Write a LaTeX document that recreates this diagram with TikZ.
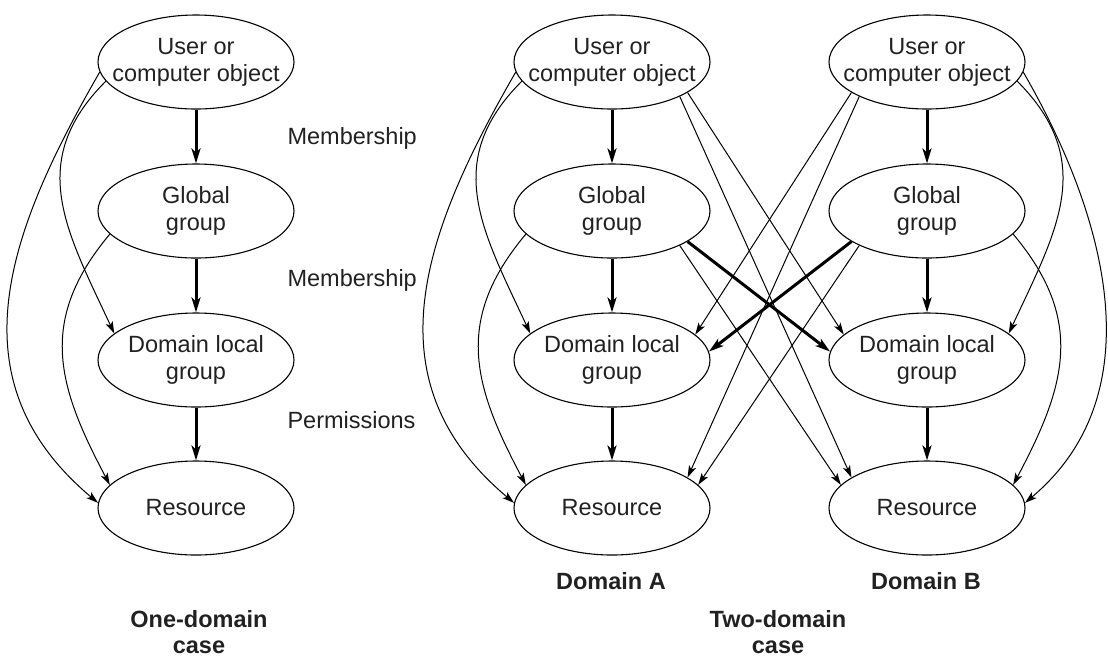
\documentclass[tikz,border=0pt]{standalone}
\usepackage{fontspec}
\setmainfont{Liberation Sans}
\usetikzlibrary{shapes.geometric,arrows.meta}
\begin{document}
\begin{tikzpicture}[x=1pt,y=1pt,
  ell/.style={draw, ellipse, line width=1.1pt, minimum width=196pt, minimum height=94pt, inner sep=0pt},
  txt/.style={align=center, font=\fontsize{23.5}{27}\selectfont, text=black!87},
  btxt/.style={align=center, font=\fontsize{23.5}{26}\selectfont\bfseries, text=black!87},
  bigarrow/.style={line width=3pt, -{Stealth[length=15pt,width=9pt,inset=4pt]}},
  smallarrow/.style={line width=1pt, -{Stealth[length=12pt,width=7.5pt,inset=3pt]}}
]
\useasboundingbox (0,0) rectangle (1108,-657);

% one-domain column
\node[ell, label={[txt]center:User or\\computer object}] (u1) at (196,-62) {};
\node[ell, label={[txt]center:Global\\group}] (g1) at (196,-211) {};
\node[ell, label={[txt]center:Domain local\\group}] (d1) at (196,-360) {};
\node[ell, label={[txt]center:Resource}] (r1) at (196,-508) {};

% domain A
\node[ell, label={[txt]center:User or\\computer object}] (ua) at (612,-62) {};
\node[ell, label={[txt]center:Global\\group}] (ga) at (612,-211) {};
\node[ell, label={[txt]center:Domain local\\group}] (da) at (612,-360) {};
\node[ell, label={[txt]center:Resource}] (ra) at (612,-508) {};

% domain B
\node[ell, label={[txt]center:User or\\computer object}] (ub) at (927,-62) {};
\node[ell, label={[txt]center:Global\\group}] (gb) at (927,-211) {};
\node[ell, label={[txt]center:Domain local\\group}] (db) at (927,-360) {};
\node[ell, label={[txt]center:Resource}] (rb) at (927,-508) {};

% side labels
\node[txt, anchor=west] (m1) at (284,-138) {Membership};
\node[txt, anchor=west] (m2) at (284,-280) {Membership};
\node[txt, anchor=west] (p1) at (284,-420) {Permissions};

\node[btxt] (la) at (611,-581) {Domain A};
\node[btxt] (lb) at (926,-581) {Domain B};
\node[btxt] (l1) at (199,-632) {One-domain\\case};
\node[btxt] (l2) at (778,-632) {Two-domain\\case};

% vertical thick arrows
\foreach \c in {1,a,b}{
  \draw[bigarrow] (u\c) -- (g\c);
  \draw[bigarrow] (g\c) -- (d\c);
  \draw[bigarrow] (d\c) -- (r\c);
}

% left-side curves (one-domain and domain A)
\foreach \c in {1,a}{
  \draw[smallarrow] (u\c.186) to[out=240,in=140,looseness=1.12] (r\c.177);
  \draw[smallarrow] (u\c.192) to[out=225,in=115,looseness=1.15] (d\c.162);
  \draw[smallarrow] (g\c.195) to[out=230,in=118,looseness=1.15] (r\c.165);
}

% right-side curves (domain B)
\draw[smallarrow] (ub.-6) to[out=-60,in=40,looseness=1.0] (rb.3);
\draw[smallarrow] (ub.-12) to[out=-45,in=65,looseness=1.15] (db.18);
\draw[smallarrow] (gb.-15) to[out=-50,in=62,looseness=1.15] (rb.15);

% cross connections
\draw[smallarrow] (ua.-22) -- (db.163);
\draw[smallarrow] (ua.-27) -- (rb.158);
\draw[bigarrow] (ga.-22) -- (db.175);
\draw[smallarrow] (ga.-27) -- (rb.165);

\draw[smallarrow] (ub.202) -- (da.17);
\draw[smallarrow] (ub.207) -- (ra.22);
\draw[bigarrow] (gb.202) -- (da.5);
\draw[smallarrow] (gb.207) -- (ra.15);
\end{tikzpicture}
\end{document}
